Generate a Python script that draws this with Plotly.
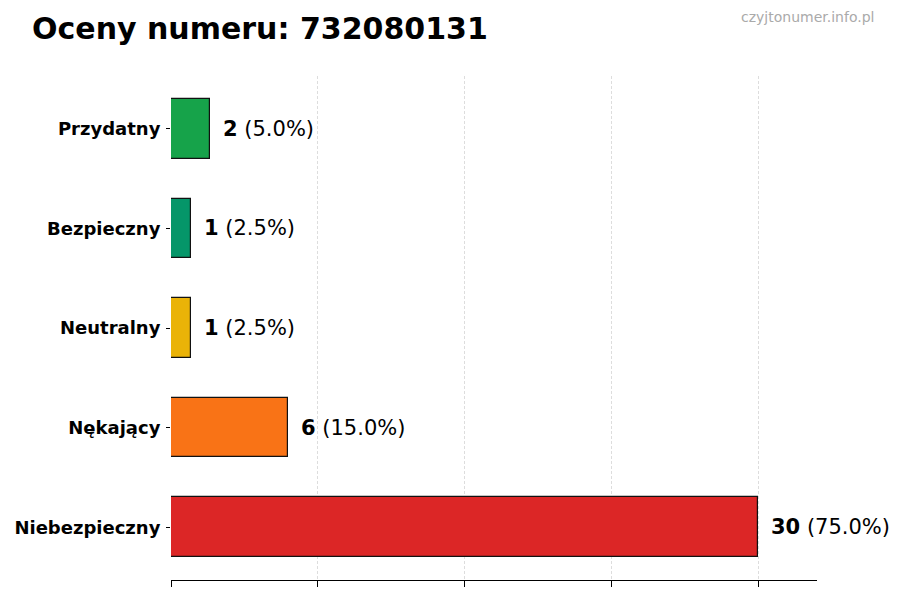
import plotly.graph_objects as go

# Data (bottom to top, as drawn)
categories = ["Niebezpieczny", "Nękający", "Neutralny", "Bezpieczny", "Przydatny"]
counts = [30, 6, 1, 1, 2]
colors = ["#dc2626", "#f97316", "#eab308", "#059669", "#16a34a"]
x_ticks = [0, 7.5, 15, 22.5, 30]

title_text = "Oceny numeru: 732080131"
watermark = "czyjtonumer.info.pl"

FONT = "DejaVu Sans"
total = sum(counts)
positions = list(range(len(categories)))

# the page body has an 8px margin all round; keep the figure inside the window
OFF = 8
W, H = 900 - 2 * OFF, 600 - 2 * OFF
L = 171 - OFF          # plot area left edge on the page: 171
T = 76 - OFF           # top: 76
R = W - (817 - OFF)    # right: 817
B = H - (580 - OFF)    # bottom: 580
pw, ph = W - L - R, H - T - B


def px_to_paper(px, py):
    # page pixel -> paper coords
    return (px - OFF - L) / pw, 1 - (py - OFF - T) / ph


fig = go.Figure()
fig.add_trace(go.Bar(
    x=counts,
    y=positions,
    orientation="h",
    width=0.6,
    marker=dict(color=colors, line=dict(color="#111111", width=1.2)),
    hoverinfo="skip",
    showlegend=False,
))

# value labels next to bars
for pos, val in zip(positions, counts):
    pct = val / total * 100
    fig.add_annotation(
        x=val, y=pos, xref="x", yref="y",
        text=f"<b>{val}</b> ({pct:.1f}%)",
        showarrow=False, xanchor="left", yanchor="middle",
        xshift=11,
        font=dict(family=FONT, size=21, color="#000000"),
    )

# title and watermark
tx, ty = px_to_paper(30, 29)
fig.add_annotation(
    x=tx, y=ty, xref="paper", yref="paper", text=f"<b>{title_text}</b>",
    showarrow=False, xanchor="left", yanchor="middle",
    font=dict(family=FONT, size=30, color="#000000"),
)
wx, wy = px_to_paper(876, 17)
fig.add_annotation(
    x=wx, y=wy, xref="paper", yref="paper", text=watermark,
    showarrow=False, xanchor="right", yanchor="middle",
    font=dict(family=FONT, size=14, color="#aaaaaa"),
)

fig.update_layout(
    width=W, height=H,
    margin=dict(l=L, r=R, t=T, b=B),
    plot_bgcolor="white", paper_bgcolor="white",
    font=dict(family=FONT, color="#000000"),
    bargap=0,
)
fig.update_xaxes(
    range=[0, 33], automargin=False,
    tickvals=x_ticks, showticklabels=False,
    ticks="outside", ticklen=6, tickwidth=1, tickcolor="#000000",
    showgrid=True, gridcolor="#dddddd", griddash="3px,2px", gridwidth=1,
    showline=True, linecolor="#000000", linewidth=1.2,
    zeroline=False, layer="above traces",
)
fig.update_yaxes(
    range=[-0.53, 4.53], automargin=False,
    tickvals=positions, ticktext=[f"<b>{c}</b>" for c in categories],
    ticks="outside", ticklen=4, tickwidth=1, tickcolor="#000000",
    ticklabelstandoff=2,
    tickfont=dict(family=FONT, size=18, color="#000000"),
    showgrid=False, showline=False, zeroline=False,
)

fig.write_html("out.html")
